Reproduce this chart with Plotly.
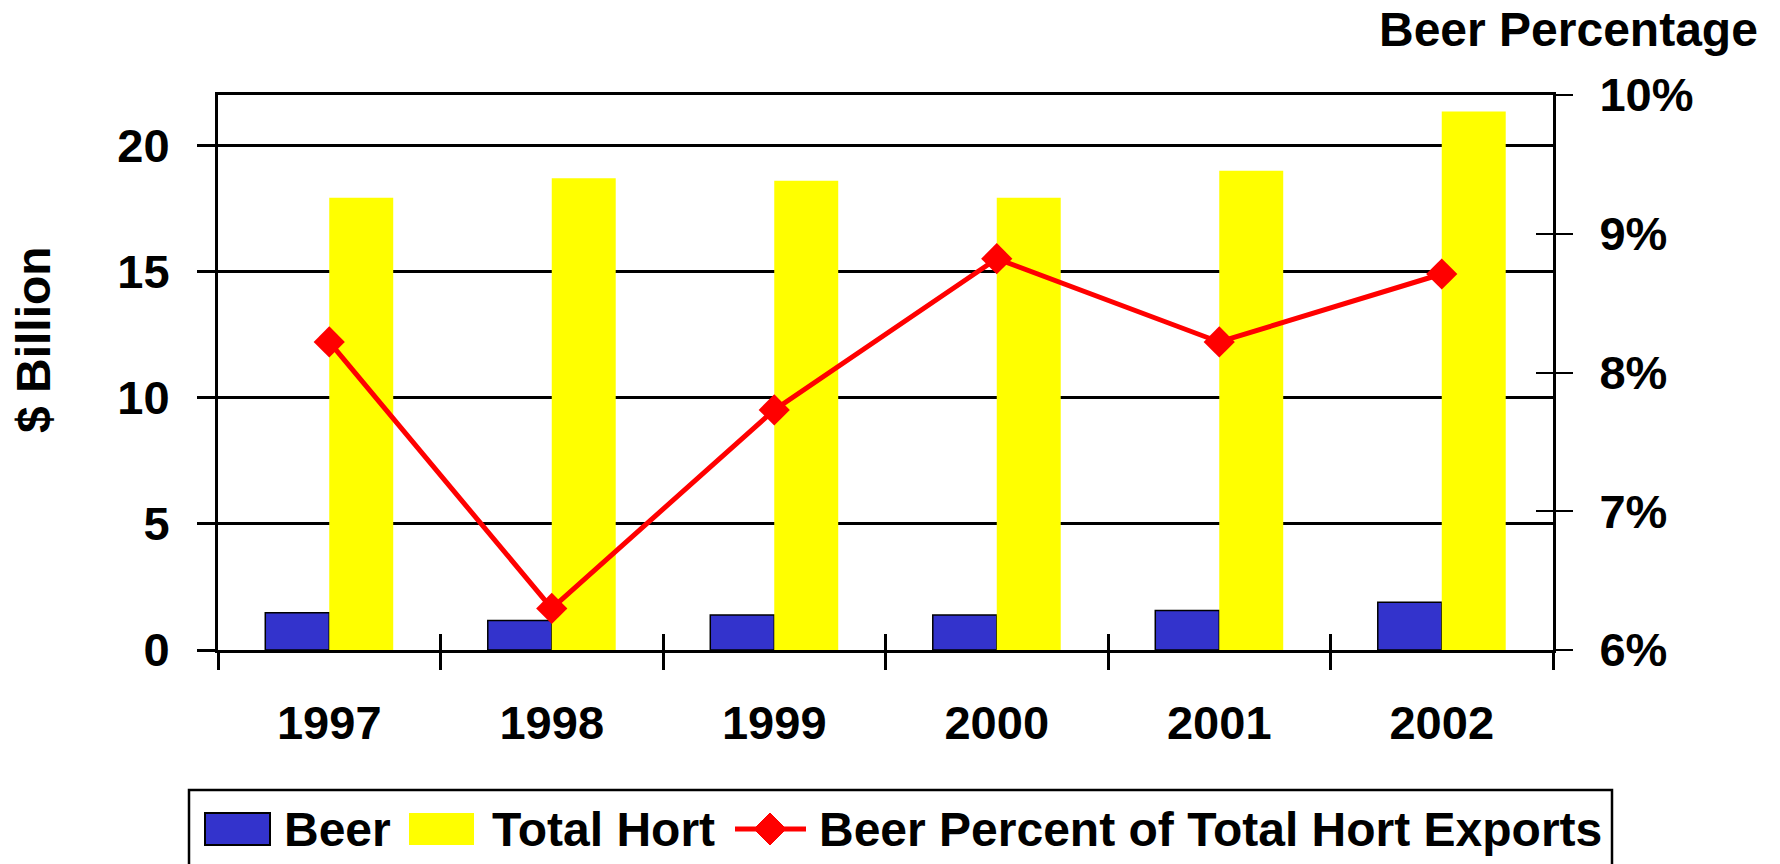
import plotly.graph_objects as go

# chart data
years = ["1997", "1998", "1999", "2000", "2001", "2002"]
beer = [1.48, 1.17, 1.39, 1.39, 1.57, 1.89]
total_hort = [17.93, 18.7, 18.6, 17.93, 19.0, 21.35]
beer_pct = [8.22, 6.30, 7.73, 8.82, 8.22, 8.71]

W, H = 1780, 864
L, R, T, B = 218, 1553, 95, 650
FONT = "Arial, Liberation Sans, sans-serif"
TICK_FS = 47
FS = 48


def px(x, y):
    """pixel position -> paper coordinates"""
    return (x - L) / (R - L), (B - y) / (B - T)


fig = go.Figure()
fig.add_trace(go.Bar(x=years, y=beer, name="Beer", marker_color="#3333CC",
                     marker_line=dict(color="black", width=1.5)))
fig.add_trace(go.Bar(x=years, y=total_hort, name="Total Hort",
                     marker_color="#FFFF00", marker_line_width=0))
fig.add_trace(go.Scatter(x=years, y=beer_pct, name="Beer Percent of Total Hort Exports",
                         yaxis="y2", mode="lines+markers",
                         line=dict(color="#FF0000", width=5),
                         marker=dict(symbol="diamond", size=24, color="#FF0000")))

axis_font = dict(family=FONT, size=TICK_FS, color="black", weight="bold")
fig.update_layout(
    width=W, height=H,
    margin=dict(l=L, r=W - R, t=T, b=H - B),
    paper_bgcolor="white", plot_bgcolor="white",
    barmode="group", bargap=0.425, bargroupgap=0,
    showlegend=False,
    font=dict(family=FONT, color="black"),
    xaxis=dict(type="category", tickson="boundaries", ticks="outside", ticklen=17,
               tickwidth=3, tickcolor="black", showline=True, linewidth=3,
               linecolor="black", mirror=True, showgrid=False,
               tickfont=axis_font, ticklabelstandoff=30),
    xaxis2=dict(overlaying="x", range=[0, 6], tick0=0, dtick=1, ticks="inside",
                ticklen=16, tickwidth=3, tickcolor="black", showticklabels=False,
                showgrid=False, showline=False, zeroline=False),
    yaxis=dict(range=[0, 22], dtick=5, ticks="outside", ticklen=18, tickwidth=3,
               tickcolor="black", showline=True, linewidth=3, linecolor="black",
               showgrid=True, gridcolor="black", gridwidth=3, zeroline=False,
               tickfont=axis_font, ticklabelstandoff=18),
    yaxis2=dict(overlaying="y", side="right", range=[6, 10], dtick=1,
                ticksuffix="%", ticks="outside", ticklen=17, tickwidth=2,
                tickcolor="black", showline=True, linewidth=3, linecolor="black",
                showgrid=False, zeroline=False, tickfont=axis_font,
                ticklabelstandoff=17),
    yaxis3=dict(overlaying="y", side="right", range=[6, 10], dtick=1,
                ticks="inside", ticklen=17, tickwidth=2, tickcolor="black",
                showticklabels=False, showgrid=False, zeroline=False,
                showline=False),
)
# dummy invisible trace so the overlay axes get drawn
fig.add_trace(go.Scatter(x=[0], y=[6], xaxis="x2", yaxis="y3", mode="markers",
                         marker_opacity=0, hoverinfo="skip", showlegend=False))

# axis titles
ax, ay = px(33, 340)
fig.add_annotation(x=ax, y=ay, xref="paper", yref="paper", text="<b>$ Billion</b>",
                   textangle=-90, xanchor="center", yanchor="middle", showarrow=False,
                   font=dict(size=FS, family=FONT))
ax, ay = px(1760, 29)
fig.add_annotation(x=ax, y=ay, xref="paper", yref="paper", text="<b>Beer Percentage</b>",
                   xanchor="right", yanchor="middle", showarrow=False,
                   font=dict(size=FS, family=FONT))

# legend box drawn by hand
x0, y0 = px(189, 866)
x1, y1 = px(1612, 790)
fig.add_shape(type="rect", xref="paper", yref="paper", x0=x0, y0=y0, x1=x1, y1=y1,
              line=dict(color="black", width=2.5), fillcolor="white", layer="below")

cy = 829
for left, color, outline in [(205, "#3333CC", 2), (409, "#FFFF00", 0)]:
    a0, b0 = px(left, 845)
    a1, b1 = px(left + 65, 813)
    fig.add_shape(type="rect", xref="paper", yref="paper", x0=a0, y0=b0, x1=a1, y1=b1,
                  fillcolor=color, line=dict(color="black", width=outline))
a0, b0 = px(735, cy)
a1, _ = px(806, cy)
fig.add_shape(type="line", xref="paper", yref="paper", x0=a0, y0=b0, x1=a1, y1=b0,
              line=dict(color="#FF0000", width=5))
d = 16
pts = [px(770, cy - d), px(770 + d, cy), px(770, cy + d), px(770 - d, cy)]
path = "M " + " L ".join(f"{p[0]},{p[1]}" for p in pts) + " Z"
fig.add_shape(type="path", xref="paper", yref="paper", path=path,
              fillcolor="#FF0000", line=dict(color="#FF0000", width=1))

for left, label in [(282, "Beer"), (490, "Total Hort"),
                    (817, "Beer Percent of Total Hort Exports")]:
    lx, ly = px(left, cy)
    fig.add_annotation(x=lx, y=ly, xref="paper", yref="paper", text=f"<b>{label}</b>",
                       xanchor="left", yanchor="middle", showarrow=False,
                       font=dict(size=FS, family=FONT))

# drop the default body margin so the figure sits at the page corner
fig.write_html("out.html", config={"displayModeBar": False},
               post_script="document.body.style.margin='0';")
